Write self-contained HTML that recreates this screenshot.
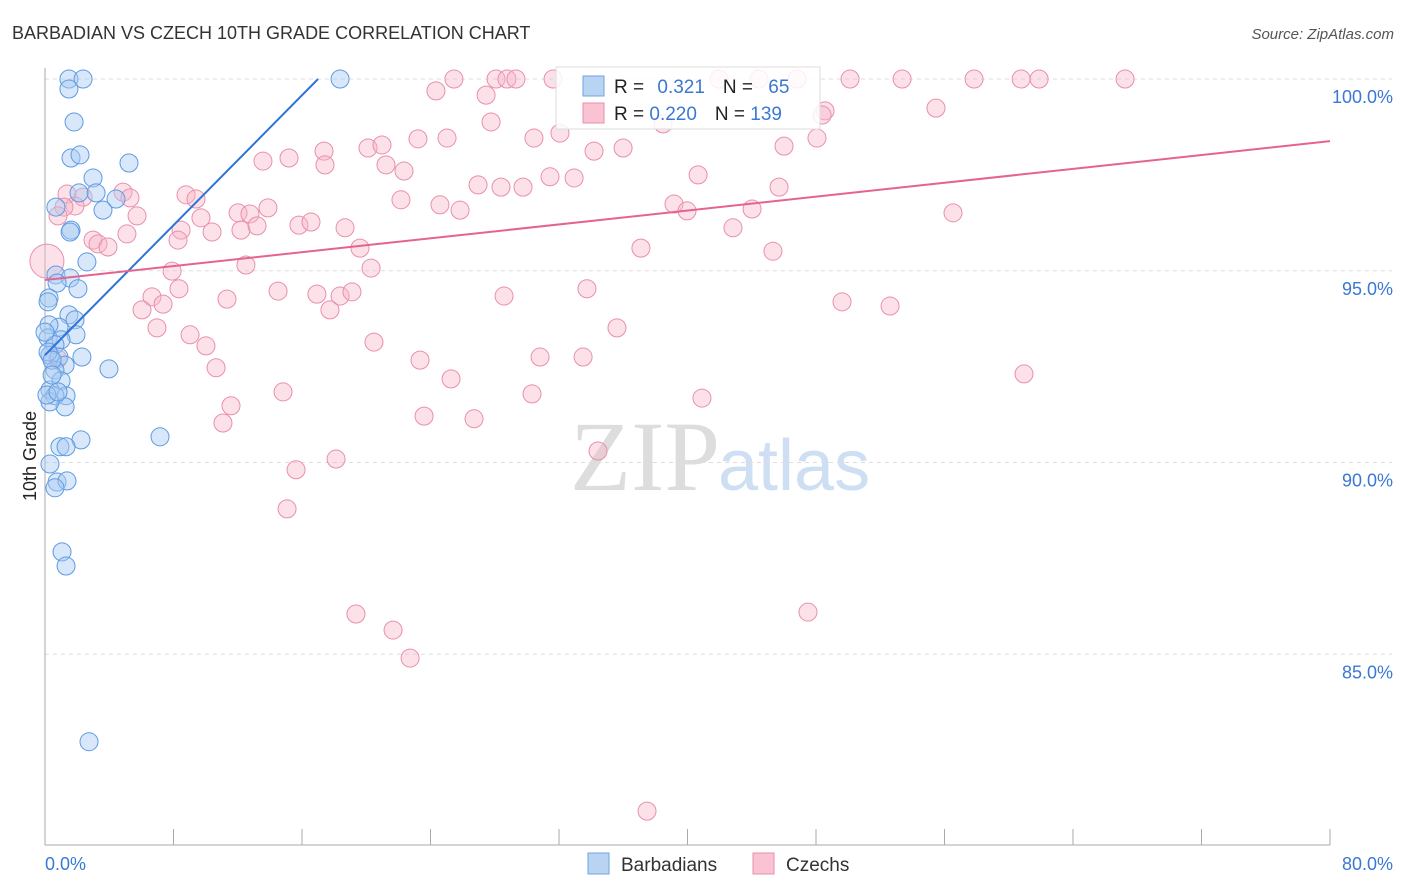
<!DOCTYPE html>
<html><head><meta charset="utf-8"><style>
body{margin:0;background:#fff;font-family:"Liberation Sans",sans-serif}
svg{display:block}
</style></head><body>
<svg id="chart" width="1406" height="892">
<text x="12" y="39" font-size="18" fill="#333">BARBADIAN VS CZECH 10TH GRADE CORRELATION CHART</text>
<text x="1394" y="39" font-size="15" fill="#555" font-style="italic" text-anchor="end">Source: ZipAtlas.com</text>
<text x="36" y="456" font-size="18" fill="#222" transform="rotate(-90 36 456)" text-anchor="middle">10th Grade</text>
<text x="720" y="490" font-size="100" fill="#ddd" text-anchor="end" font-family="Liberation Serif">ZIP</text>
<text x="718" y="490" font-size="72" fill="#cfdff3">atlas</text>
<g id="grid"></g><g id="pink"></g><g id="blue"></g><g id="trend"></g>
<g>
<rect x="556" y="67" width="264" height="62" fill="#fff" fill-opacity="0.85" stroke="#ddd"/>
<rect x="583" y="76" width="21" height="20" fill="#b9d3f3" stroke="#6fa3e0"/>
<rect x="583" y="103" width="21" height="20" fill="#f9c3d3" stroke="#e98fad"/>
<text x="614" y="93" font-size="19" fill="#222">R = <tspan fill="#3a78d4" dx="8">0.321</tspan><tspan dx="18" fill="#222">N = </tspan><tspan fill="#3a78d4" dx="10">65</tspan></text>
<text x="614" y="120" font-size="19" fill="#222">R = <tspan fill="#3a78d4">0.220</tspan><tspan dx="18" fill="#222">N = </tspan><tspan fill="#3a78d4">139</tspan></text>
</g>
<g>
<rect x="588" y="853" width="21" height="21" fill="#b9d3f3" stroke="#6fa3e0"/>
<text x="621" y="871" font-size="19" fill="#333">Barbadians</text>
<rect x="753" y="853" width="21" height="21" fill="#f9c3d3" stroke="#e98fad"/>
<text x="786" y="871" font-size="19" fill="#333">Czechs</text>
</g>
</svg>
<script>
const xTicks=[0,10,20,30,40,50,60,70,80];
const yTicks=[100,95,90,85];
const blueX=[1.49,2.37,1.49,18.37,1.81,1.62,2.18,5.23,2.99,3.18,2.12,4.42,0.68,3.61,1.62,1.56,2.61,0.68,1.56,0.75,2.05,0.25,0.19,1.49,1.87,0.87,0.25,1.93,0.19,1.0,0.62,2.3,0.31,0.87,0.19,1.25,0.62,3.98,1.0,0.31,1.31,0.62,1.25,0.31,2.24,0.93,7.16,1.31,0.31,0.75,1.37,0.62,1.06,1.31,2.74,0,0.44,0.12,0.81,0.44];
const blueY=[100,100,99.74,100,98.88,97.94,98.02,97.81,97.42,97.03,97.03,96.87,96.66,96.58,96.06,96.01,95.23,94.89,94.81,94.68,94.53,94.29,94.19,93.85,93.72,93.53,93.59,93.33,93.25,93.2,93.07,92.75,92.8,92.75,92.88,92.54,92.41,92.44,92.13,91.89,91.74,91.74,91.45,91.58,90.59,90.41,90.67,90.41,89.96,89.49,89.52,89.34,87.67,87.3,82.72,93.4,92.67,91.76,91.84,92.28];
const pinkX=[25.46,28.08,28.76,29.32,31.63,41.96,44.45,46.82,50.12,53.36,57.84,60.77,61.89,67.24,24.34,27.46,27.77,38.48,48.56,48.38,55.47,20.11,20.98,23.22,25.03,30.44,32.06,34.18,35.99,46.01,48.06,15.19,13.57,17.37,17.43,21.23,22.35,26.96,28.39,29.76,31.44,32.94,40.66,45.7,1.37,2.37,4.86,5.29,8.78,9.4,1.87,1.18,0.81,5.73,9.71,12.02,13.88,12.76,12.2,13.2,10.4,8.47,15.81,16.56,18.68,22.16,24.59,25.84,39.16,39.97,44.02,42.83,56.53,2.99,3.3,3.92,5.1,8.28,19.61,37.1,45.32,7.91,12.51,20.3,6.66,8.34,7.35,6.04,11.33,14.51,16.93,17.74,18.37,19.11,28.58,33.74,49.62,52.61,6.97,9.03,10.02,20.48,35.61,10.65,23.35,30.82,33.5,25.28,60.95,14.82,11.58,30.32,40.9,11.08,23.6,26.71,15.63,18.12,34.43,15.07,19.36,21.67,22.73,47.5,37.48,0.12,0.8];
const pinkY=[100,100,100,100,100,100,100,100,100,100,100,100,100,100,99.69,99.58,98.88,98.83,99.17,99.06,99.24,98.2,98.28,98.44,98.46,98.46,98.59,98.12,98.2,98.25,98.46,97.94,97.86,98.12,97.76,97.76,97.6,97.24,97.18,97.18,97.45,97.42,97.5,97.18,97.0,96.92,97.05,96.9,96.98,96.87,96.69,96.66,96.43,96.43,96.38,96.51,96.64,96.48,96.06,96.17,96.01,96.06,96.19,96.27,96.12,96.85,96.72,96.58,96.74,96.56,96.61,96.12,96.51,95.8,95.7,95.62,95.96,95.8,95.59,95.59,95.51,94.99,95.15,95.07,94.32,94.53,94.13,93.98,94.26,94.47,94.39,93.98,94.34,94.45,94.34,94.53,94.19,94.08,93.51,93.33,93.04,93.14,93.51,92.47,92.67,92.75,92.75,92.18,92.31,91.84,91.48,91.79,91.68,91.03,91.21,91.14,89.81,90.09,90.3,88.79,86.05,85.63,84.9,86.1,80.91,95.25,92.7];
const blueTrend=[[0,92.8],[17.0,100]];
const pinkTrend=[[0,94.76],[80,98.38]];
const NS='http://www.w3.org/2000/svg';
const X=v=>45+v*16.0625, Y=v=>79+(100-v)*38.35;
function mk(tag,attrs,parent){const e=document.createElementNS(NS,tag);for(const k in attrs)e.setAttribute(k,attrs[k]);parent.appendChild(e);return e;}
const grid=document.getElementById('grid');
yTicks.forEach(t=>{
 const l=mk('line',{x1:45,x2:1392,y1:Y(t),y2:Y(t),stroke:'#ddd','stroke-dasharray':'4,4'},grid);
 
 
 const tx=mk('text',{x:1393,y:Y(t)+24,'font-size':18,fill:'#3a78d4','text-anchor':'end'},grid);
 tx.textContent=t.toFixed(1)+'%';
 
 
});
mk('line',{x1:45,x2:45,y1:68,y2:845,stroke:'#aaa'},grid);
mk('line',{x1:45,x2:1330,y1:845,y2:845,stroke:'#aaa'},grid);
for(let i=1;i<=10;i++){const v=i*8;mk('line',{x1:X(v),x2:X(v),y1:829,y2:845,stroke:'#aaa'},grid);}
const xl0=mk('text',{x:45,y:870,'font-size':18,fill:'#3a78d4'},grid);xl0.textContent='0.0%';


const xl1=mk('text',{x:1393,y:870,'font-size':18,fill:'#3a78d4','text-anchor':'end'},grid);xl1.textContent='80.0%';


const pg=document.getElementById('pink');
pinkX.forEach((x,i)=>{const c=mk('circle',{cx:X(x),cy:Y(pinkY[i]),r:i===pinkX.length-2?17:9,fill:'#f7b3c8','fill-opacity':0.4,stroke:'#e98fad','stroke-width':1},pg);
 
 });
const bg=document.getElementById('blue');
blueX.forEach((x,i)=>{const c=mk('circle',{cx:X(x),cy:Y(blueY[i]),r:9,fill:'#a9c9f1','fill-opacity':0.45,stroke:'#5d9be2','stroke-width':1},bg);
 
 });
const tg=document.getElementById('trend');
const bl=mk('line',{x1:X(blueTrend[0][0]),y1:Y(blueTrend[0][1]),x2:X(blueTrend[1][0]),y2:Y(blueTrend[1][1]),stroke:'#2f74d6','stroke-width':2},tg);


const pl=mk('line',{x1:X(pinkTrend[0][0]),y1:Y(pinkTrend[0][1]),x2:X(pinkTrend[1][0]),y2:Y(pinkTrend[1][1]),stroke:'#e5638f','stroke-width':2},tg);


</script>
</body></html>
